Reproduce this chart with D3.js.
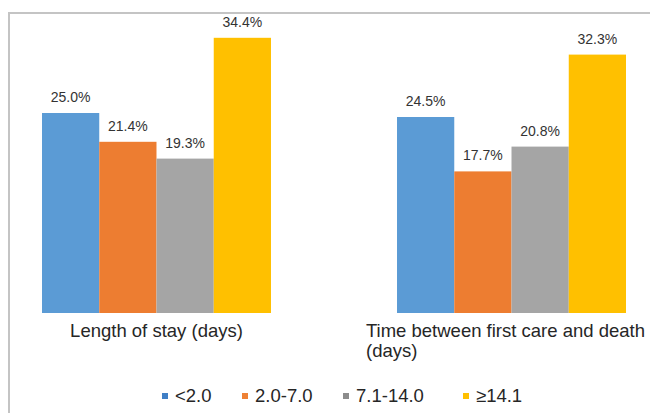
<!DOCTYPE html>
<html>
<head>
<meta charset="utf-8">
<script src="https://cdn.jsdelivr.net/npm/d3@7"></script>
<style>
  html, body { margin: 0; padding: 0; background: #fff; }
  svg { display: block; font-family: "Liberation Sans", Arial, sans-serif; }
</style>
</head>
<body>
<svg id="chart" width="650" height="413"></svg>
<script>
// Measures shown on the x axis
const categories = ["Length of stay (days)", "Time between first care and death (days)"];
const categoryLines = [["Length of stay (days)"], ["Time between first care and death", "(days)"]];

// Duration bands (series)
const seriesNames = ["<2.0", "2.0-7.0", "7.1-14.0", "\u226514.1"];
const seriesColors = ["#5b9bd5", "#ed7d31", "#a5a5a5", "#ffc000"];
const legendColors = ["#3f7fc6", "#ee8135", "#8c8c8c", "#ffc000"];

// Percentages per band, one array per measure
const lengthOfStay = [25.0, 21.4, 19.3, 34.4];
const firstCareToDeath = [24.5, 17.7, 20.8, 32.3];
const values = [lengthOfStay, firstCareToDeath];

const svg = d3.select("#chart");

// Outer frame (only top and left edges fall inside the view)
svg.append("rect")
  .attr("x", 9).attr("y", 13)
  .attr("width", 700).attr("height", 500)
  .attr("fill", "none")
  .attr("stroke", "#c4c4c4")
  .attr("stroke-width", 2);

const baseline = 313;
const y = d3.scaleLinear().domain([0, 40]).range([baseline, baseline - 320]);

const x0 = d3.scaleBand()
  .domain(categories)
  .range([42, 626])
  .paddingInner(0.355)
  .paddingOuter(0);

const x1 = d3.scaleBand()
  .domain(seriesNames)
  .range([0, x0.bandwidth()])
  .padding(0);

const groups = svg.selectAll("g.group")
  .data(categories)
  .join("g")
  .attr("class", "group")
  .attr("transform", d => `translate(${x0(d)},0)`);

groups.each(function(cat, ci) {
  const g = d3.select(this);
  const rows = seriesNames.map((s, si) => ({ s, si, v: values[ci][si] }));

  g.selectAll("rect")
    .data(rows)
    .join("rect")
    .attr("x", d => x1(d.s))
    .attr("y", d => y(d.v))
    .attr("width", x1.bandwidth())
    .attr("height", d => baseline - y(d.v))
    .attr("fill", d => seriesColors[d.si]);

  g.selectAll("text.val")
    .data(rows)
    .join("text")
    .attr("class", "val")
    .attr("x", d => x1(d.s) + x1.bandwidth() / 2)
    .attr("y", d => y(d.v) - 11)
    .attr("text-anchor", "middle")
    .attr("font-size", 14)
    .attr("fill", "#333")
    .text(d => d.v.toFixed(1) + "%");
});

// Category labels under each group; wrapped lines share a left edge
categories.forEach((cat, ci) => {
  const cx = x0(cat) + x0.bandwidth() / 2;
  const t = svg.append("text")
    .attr("font-size", 18.5)
    .attr("fill", "#262626");
  const lines = categoryLines[ci];
  lines.forEach((line, li) => {
    t.append("tspan")
      .attr("y", 337 + li * 20)
      .text(line);
  });
  const first = t.select("tspan").node().getComputedTextLength();
  const left = Math.min(cx - first / 2, 650 - 5 - first);
  t.selectAll("tspan").attr("x", left);
});

// Legend
const legendX = [162, 242, 343, 463];
const legend = svg.append("g");
seriesNames.forEach((name, i) => {
  legend.append("rect")
    .attr("x", legendX[i]).attr("y", 393)
    .attr("width", 6).attr("height", 6)
    .attr("fill", legendColors[i]);
  legend.append("text")
    .attr("x", legendX[i] + 13)
    .attr("y", 402)
    .attr("font-size", 18.5)
    .attr("fill", "#262626")
    .text(name);
});
</script>
</body>
</html>
